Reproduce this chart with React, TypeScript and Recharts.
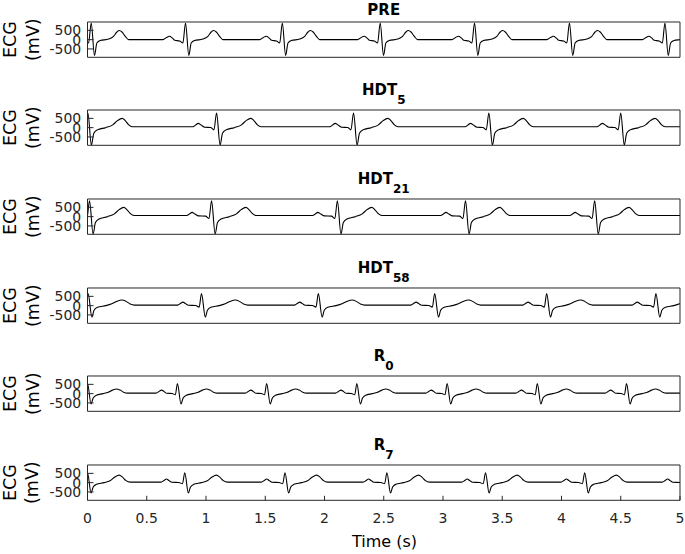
import { LineChart, Line, XAxis, YAxis } from 'recharts';

const TIME_TICKS = [0, 0.5, 1, 1.5, 2, 2.5, 3, 3.5, 4, 4.5, 5];
const ECG_TICKS = [-500, 0, 500];

// R-peak times (s); the last one falls just past the 5 s window
const PRE_PEAKS = [0.031, 0.827, 1.644, 2.47, 3.266, 4.067, 4.873, 5.68];
const HDT5_PEAKS = [0.003, 1.089, 2.245, 3.387, 4.5, 5.63];
const HDT21_PEAKS = [0.017, 1.047, 2.109, 3.19, 4.28, 5.35];
const HDT58_PEAKS = [0.005, 0.962, 1.948, 2.93, 3.875, 4.797, 5.75];
const R0_PEAKS = [0.0, 0.759, 1.512, 2.273, 3.035, 3.796, 4.549, 5.31];
const R7_PEAKS = [0.0, 0.821, 1.667, 2.527, 3.359, 4.196, 5.05];

// one beat per recording: time from R peak (s) and voltage (mV)
const PRE_OFF = [-0.19, -0.16, -0.135, -0.11, -0.09, -0.05, -0.022, 0, 0.028, 0.048, 0.076, 0.146, 0.189, 0.217, 0.237, 0.26, 0.288, 0.316];
const PRE_MV = [0, 120, 180, 80, -30, -70, -180, 900, -850, -180, -50, 30, 180, 410, 490, 410, 180, 0];

const HDT5_OFF = [-0.2, -0.175, -0.155, -0.13, -0.1, -0.05, -0.022, 0, 0.03, 0.05, 0.08, 0.15, 0.21, 0.25, 0.29, 0.315, 0.345, 0.375];
const HDT5_MV = [50, 150, 230, 140, 20, 10, -120, 780, -940, -300, -120, 0, 150, 380, 500, 380, 150, 50];

const HDT21_OFF = [-0.21, -0.185, -0.165, -0.14, -0.11, -0.05, -0.022, 0, 0.03, 0.05, 0.08, 0.15, 0.21, 0.25, 0.29, 0.315, 0.345, 0.375];
const HDT21_MV = [60, 150, 230, 140, 40, 30, -100, 850, -940, -320, -130, 0, 150, 380, 500, 380, 160, 60];

const HDT58_OFF = [-0.2, -0.178, -0.157, -0.135, -0.11, -0.05, -0.02, 0, 0.032, 0.05, 0.08, 0.15, 0.2, 0.245, 0.285, 0.32, 0.355, 0.39];
const HDT58_MV = [30, 120, 190, 110, 20, 10, -80, 645, -612, -250, -90, 0, 100, 240, 300, 230, 90, 30];

const R0_OFF = [-0.18, -0.155, -0.134, -0.112, -0.09, -0.045, -0.018, 0, 0.03, 0.048, 0.075, 0.13, 0.175, 0.21, 0.245, 0.275, 0.305, 0.335];
const R0_MV = [30, 120, 190, 110, 20, 10, -60, 545, -558, -230, -90, 0, 80, 190, 250, 190, 80, 30];

const R7_OFF = [-0.2, -0.175, -0.155, -0.133, -0.11, -0.05, -0.02, 0, 0.03, 0.048, 0.075, 0.14, 0.19, 0.23, 0.267, 0.295, 0.325, 0.36];
const R7_MV = [30, 120, 195, 110, 20, 10, -60, 530, -560, -230, -90, 0, 100, 300, 405, 300, 110, 30];

const PANELS = [
  { name: 'PRE', sub: '', peaks: PRE_PEAKS, off: PRE_OFF, mv: PRE_MV },
  { name: 'HDT', sub: '5', peaks: HDT5_PEAKS, off: HDT5_OFF, mv: HDT5_MV },
  { name: 'HDT', sub: '21', peaks: HDT21_PEAKS, off: HDT21_OFF, mv: HDT21_MV },
  { name: 'HDT', sub: '58', peaks: HDT58_PEAKS, off: HDT58_OFF, mv: HDT58_MV },
  { name: 'R', sub: '0', peaks: R0_PEAKS, off: R0_OFF, mv: R0_MV },
  { name: 'R', sub: '7', peaks: R7_PEAKS, off: R7_OFF, mv: R7_MV },
];

const W = 685;
const LEFT = 87.5;
const RIGHT = 680;
const MT = 30;
const PH = 35.3;
const TOP0 = 21.6;
const STEP = 88.7;
const AXIS = '#262626';
const FONT = '"DejaVu Sans", sans-serif';

const trace = (peaks: number[], off: number[], mv: number[]) =>
  peaks.flatMap(r => off.map((o, i) => ({ t: Math.round((r + o) * 10000) / 10000, v: mv[i] })));

function Panel({ p, idx, last }: { p: typeof PANELS[number]; idx: number; last: boolean }) {
  const mb = last ? 56 : 20;
  const h = MT + PH + mb;
  const cx = (LEFT + RIGHT) / 2;
  const cy = MT + PH / 2;
  const data = trace(p.peaks, p.off, p.mv);

  const title = () => (
    <text x={cx} y={p.sub ? MT - 15 : MT - 6.7} textAnchor="middle" fontFamily={FONT} fontWeight="bold" fontSize={15} fill="#000">
      {p.name}
      {p.sub && <tspan dy={8.8} fontSize={12}>{p.sub}</tspan>}
    </text>
  );

  const yLabel = () => (
    <g fontFamily={FONT} fontSize={17.5} fill="#000" textAnchor="middle">
      <text x={15.5} y={cy} transform={`rotate(-90, 15.5, ${cy})`}>ECG</text>
      <text x={38.5} y={cy} transform={`rotate(-90, 38.5, ${cy})`}>(mV)</text>
    </g>
  );

  const xLabel = () => (
    <text x={384.5} y={MT + PH + 46.4} textAnchor="middle" fontFamily={FONT} fontSize={16} fill="#000">
      Time (s)
    </text>
  );

  return (
    <div style={{ position: 'absolute', left: 0, top: TOP0 + idx * STEP - MT }}>
      <LineChart
        width={W}
        height={h}
        data={data}
        margin={{ top: MT - 1, right: W - RIGHT - 1, bottom: mb - 1, left: LEFT - 1 }}
      >
        <XAxis
          xAxisId="b"
          dataKey="t"
          type="number"
          domain={[0, 5]}
          ticks={TIME_TICKS}
          interval={0}
          allowDataOverflow
          height={1}
          stroke={AXIS}
          tickSize={-4.5}
          tickMargin={17.6}
          tick={last ? { fill: AXIS, fontSize: 14, fontFamily: FONT } : false}
          label={last ? { content: xLabel } : undefined}
        />
        <XAxis
          xAxisId="t"
          orientation="top"
          dataKey="t"
          type="number"
          domain={[0, 5]}
          ticks={TIME_TICKS}
          interval={0}
          allowDataOverflow
          height={1}
          stroke={AXIS}
          tickSize={-4.5}
          tick={false}
          label={{ content: title }}
        />
        <YAxis
          yAxisId="l"
          type="number"
          domain={[-950, 950]}
          ticks={ECG_TICKS}
          interval={0}
          allowDataOverflow
          width={1}
          stroke={AXIS}
          tickSize={-6}
          tickMargin={12.3}
          tick={{ fill: AXIS, fontSize: 14, fontFamily: FONT }}
          label={{ content: yLabel }}
        />
        <YAxis
          yAxisId="r"
          orientation="right"
          type="number"
          domain={[-950, 950]}
          ticks={ECG_TICKS}
          interval={0}
          allowDataOverflow
          width={1}
          stroke={AXIS}
          tickSize={-6}
          tick={false}
        />
        <Line
          xAxisId="b"
          yAxisId="l"
          dataKey="v"
          type="monotone"
          stroke="#000"
          strokeWidth={1.1}
          dot={false}
          activeDot={false}
          isAnimationActive={false}
        />
      </LineChart>
    </div>
  );
}

export default function App() {
  return (
    <div style={{ position: 'absolute', left: 0, top: 0, width: W, height: 554, background: '#fff', fontFamily: FONT }}>
      {PANELS.map((p, i) => (
        <Panel key={i} p={p} idx={i} last={i === PANELS.length - 1} />
      ))}
    </div>
  );
}
